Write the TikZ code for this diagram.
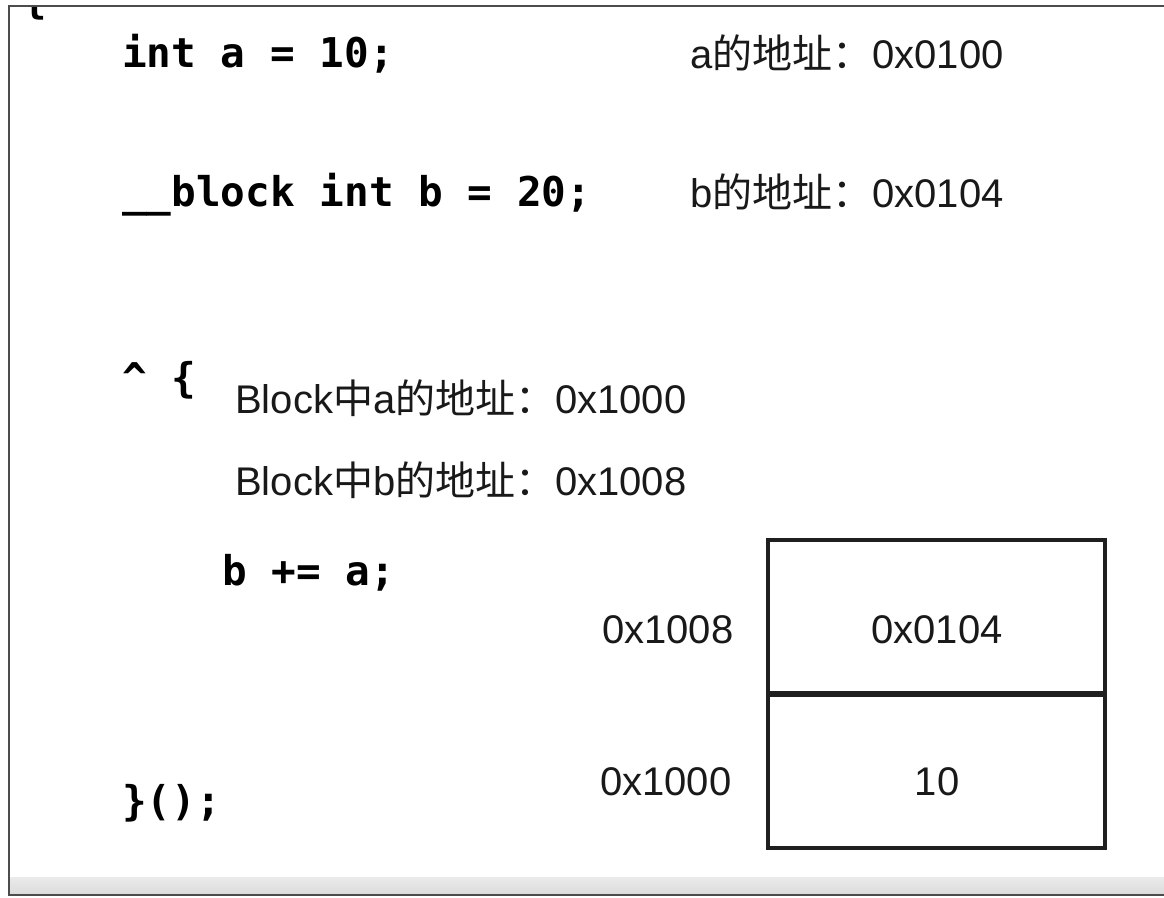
\documentclass[tikz,border=0pt]{standalone}
\usepackage{fontspec}
\setmainfont{Liberation Sans}
\newfontfamily\cjk{Noto Sans CJK SC}
\newfontfamily\codefont{DejaVu Sans Mono}
\begin{document}
\begin{tikzpicture}[x=1pt,y=-1pt,
  code/.style={anchor=base west,inner sep=0pt,font=\codefont\bfseries\fontsize{41}{48}\selectfont},
  txt/.style={anchor=base west,inner sep=0pt,font=\fontsize{40}{48}\selectfont,text=black!90},
  ctxt/.style={anchor=base,inner sep=0pt,font=\fontsize{40}{48}\selectfont,text=black!90},
  cell/.style={draw=black!88,line width=3.6pt,minimum width=337pt,minimum height=153pt,inner sep=0pt},
  frame/.style={draw=black!70,line width=2.5pt}]
\useasboundingbox (0,0) rectangle (1164,897);
\fill[white] (0,0) rectangle (1164,897);
% window frame
\shade[top color=black!8,bottom color=black!14] (9,877) rectangle (1164,894);
\draw[frame] (1164,6) -- (9,6) -- (9,895) -- (1164,895);
% clipped brace from a previous line
\begin{scope}
  \clip (10,7.5) rectangle (100,40);
  \node[code] (brace0) at (22,13) {\{};
\end{scope}
% code lines
\node[code] (la) at (122,67) {int a = 10;};
\node[code] (lb) at (122,206) {\_\_block int b = 20;};
\node[code] (lblk) at (122,392) {\^{} \{};
\node[code] (lsum) at (222,585) {b += a;};
\node[code] (lend) at (122,815) {\}();};
% address notes
\node[txt] (na) at (690,68) {a{\cjk 的地址：}0x0100};
\node[txt] (nb) at (690,207) {b{\cjk 的地址：}0x0104};
\node[txt] (nba) at (235,413) {Block{\cjk 中}a{\cjk 的地址：}0x1000};
\node[txt] (nbb) at (235,495) {Block{\cjk 中}b{\cjk 的地址：}0x1008};
% memory cells
\node[cell] (ctop) at (936.5,616.5) {};
\node[cell] (cbot) at (936.5,771.5) {};
\node[ctxt] (vtop) at (937,643) {0x0104};
\node[ctxt] (vbot) at (937,795) {10};
\node[txt] (atop) at (602,643) {0x1008};
\node[txt] (abot) at (600,795) {0x1000};
\end{tikzpicture}
\end{document}
